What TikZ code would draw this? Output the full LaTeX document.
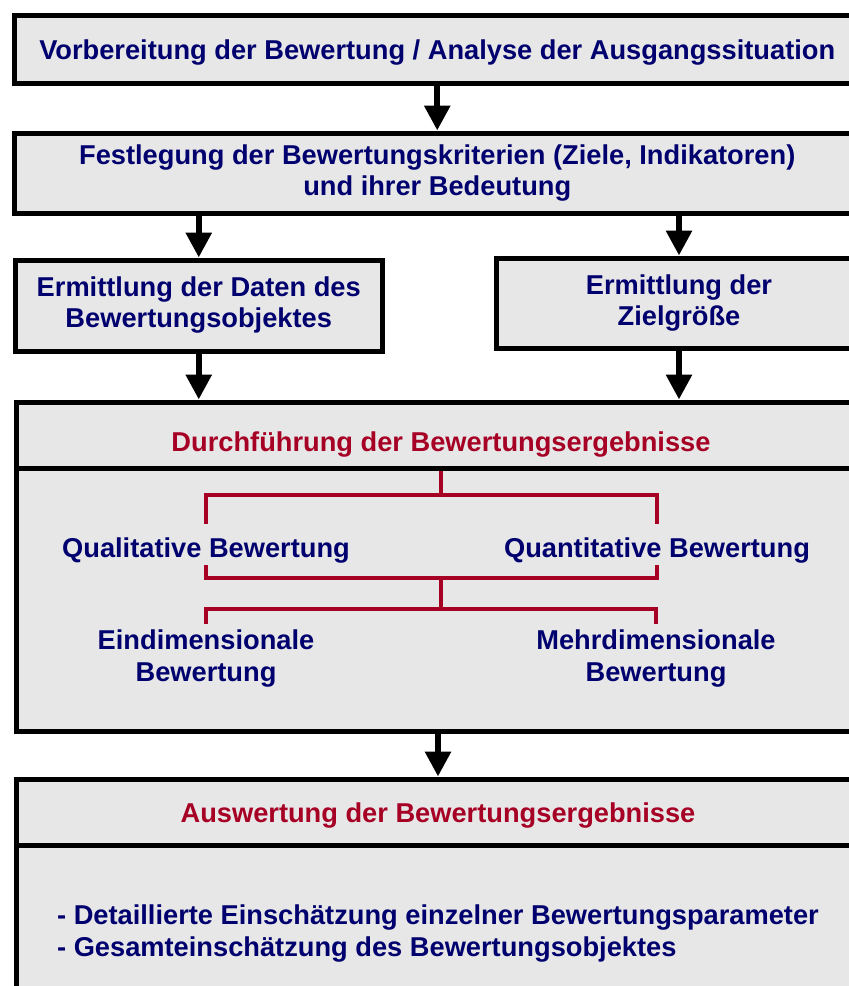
\documentclass[tikz,border=0pt]{standalone}
\usepackage{fontspec}
\setmainfont{Liberation Sans}
\usetikzlibrary{arrows.meta}

\definecolor{boxgray}{RGB}{231,231,231}
\definecolor{navy}{RGB}{0,0,110}
\definecolor{darkred}{RGB}{166,0,36}

\begin{document}
\begin{tikzpicture}[x=1pt,y=1pt]
        \tikzstyle{box} = [rectangle, draw=black, line width=5pt, fill=boxgray, text=navy, align=center, inner sep=0pt, font=\bfseries\fontsize{27.25}{31}\selectfont]
        \tikzstyle{head} = [box, text height=27pt, text depth=6pt]
        \tikzstyle{txt} = [text=navy, align=center, inner sep=0pt, font=\bfseries\fontsize{27.25}{32}\selectfont]
        \tikzstyle{arrow} = [line width=6pt, -{Triangle[width=25pt,length=25pt]}]
        \tikzstyle{bracket} = [line width=4pt, draw=darkred]

        \useasboundingbox (0,0) rectangle (849,-986);
        \clip (0,0) rectangle (849,-986);

                \node (b1) [head, minimum width=845.5pt, minimum height=67.5pt] at (437.25,-49.25) {Vorbereitung der Bewertung / Analyse der Ausgangssituation};
                \node (b2) [box, below of=b1, node distance=124pt, minimum width=845.5pt, minimum height=80.5pt] {Festlegung der Bewertungskriterien (Ziele, Indikatoren)\\ und ihrer Bedeutung};
                \node (b3l) [box, below of=b2, node distance=132.25pt, xshift=-238.5pt, minimum width=366.5pt, minimum height=91pt] {Ermittlung der Daten des\\ Bewertungsobjektes};
                \node (b3r) [box, below of=b2, node distance=129.75pt, xshift=241.75pt, minimum width=366pt, minimum height=90pt] {Ermittlung der\\ Zielgröße};

                % Durchfuehrung: Kopf und Rumpf
                \node (h4) [head, text=darkred, text height=38pt, minimum width=850pt, minimum height=66pt] at (441,-435) {Durchführung der Bewertungsergebnisse};
                \node (b4) [box, below of=h4, node distance=164.5pt, minimum width=850pt, minimum height=263pt] {};
                \node (qual) [txt] at (206,-551) {Qualitative Bewertung};
                \node (quant) [txt, right of=qual, node distance=451pt] {Quantitative Bewertung};
                \node (eindim) [txt, below of=qual, node distance=108pt] {Eindimensionale\\ Bewertung};
                \node (mehr) [txt, right of=eindim, node distance=450pt] {Mehrdimensionale\\ Bewertung};

                % Auswertung
                \node (h5) [head, text=darkred, minimum width=844pt, minimum height=66pt] at (438,-812) {Auswertung der Bewertungsergebnisse};
                \node (b5) [box, below of=h5, node distance=121.5pt, minimum width=844pt, minimum height=177pt, align=left, font=\bfseries\fontsize{27.25}{32}\selectfont] {- Detaillierte Einschätzung einzelner Bewertungsparameter\\ - Gesamteinschätzung des Bewertungsobjektes};

                \draw[arrow] (b1) -- (b2);
                \draw[arrow] (b3l.north |- b2.south) -- (b3l.north);
                \draw[arrow] (b3r.north |- b2.south) -- (b3r.north);
                \draw[arrow] (b3l.south) -- (b3l.south |- h4.north);
                \draw[arrow] (b3r.south) -- (b3r.south |- h4.north);
                \draw[arrow] (h5.north |- b4.south) -- (h5.north);

                \coordinate (fork2) at (441,-578);
                \coordinate (fork3) at (441,-609);
                \draw[bracket] (h4.south) -- ++(0,-24) coordinate (fork1);
                \draw[bracket] ([yshift=14pt]qual.north) |- (fork1) -| ([yshift=14pt]quant.north);
                \draw[bracket] ([yshift=-1pt]qual.south) |- (fork2) -| ([yshift=-1pt]quant.south);
                \draw[bracket] (fork2) -- (fork3);
                \draw[bracket] ([yshift=6pt]eindim.north) |- (fork3) -| ([yshift=6pt]mehr.north);

    \end{tikzpicture}
\end{document}
